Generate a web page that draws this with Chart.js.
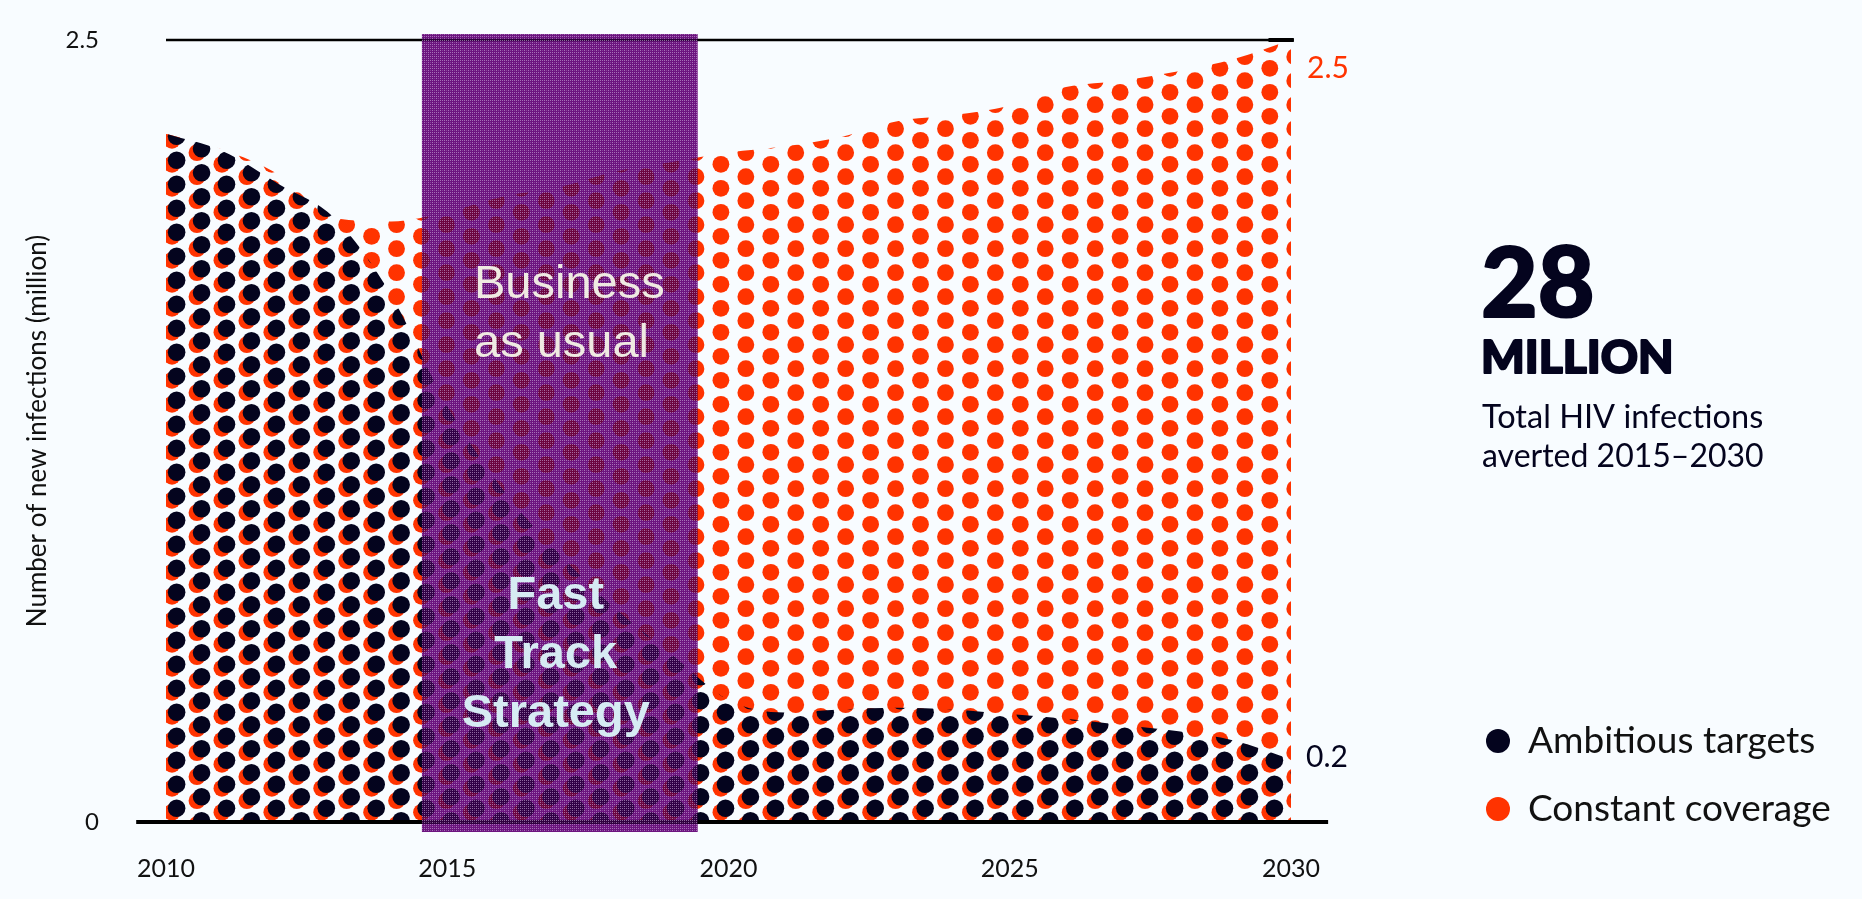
<!DOCTYPE html>
<html>
<head>
<meta charset="utf-8">
<title>HIV infections averted</title>
<script src="https://cdn.jsdelivr.net/npm/chart.js@4"></script>
<style>
  html, body { margin: 0; padding: 0; background: #f8fcff; overflow: hidden; }
  canvas { display: block; }
</style>
</head>
<body>
<canvas id="infectionsChart" width="1862" height="899"></canvas>
<script>
const years = [2010, 2011, 2012, 2013, 2014, 2015, 2016, 2017, 2018, 2019, 2020,
  2021, 2022, 2023, 2024, 2025, 2026, 2027, 2028, 2029, 2030];
const constantCoverage = [2.2, 2.15, 2.07, 1.93, 1.92, 1.95, 2.0, 2.03, 2.08, 2.11, 2.14,
  2.16, 2.19, 2.24, 2.26, 2.29, 2.35, 2.37, 2.4, 2.44, 2.5];
const ambitiousTargets = [2.2, 2.145, 2.04, 1.93, 1.685, 1.33, 1.06, 0.855, 0.68, 0.535, 0.39,
  0.35, 0.36, 0.365, 0.36, 0.345, 0.33, 0.31, 0.29, 0.26, 0.2];
const xTicks = [2010, 2015, 2020, 2025, 2030];
const yTicks = [0, 2.5];
const strategyBand = [2014.55, 2019.45];

const RED = '#ff3300';
const NAVY = '#04041e';

// Dot texture for the area fills. The tile covers the whole canvas so the
// columns can sit on a non-integer spacing.
function dotPattern(color, dx, dy, radius) {
  const tile = document.createElement('canvas');
  tile.width = 1862;
  tile.height = 899;
  const c = tile.getContext('2d');
  c.fillStyle = color;
  for (let col = 0; col < 46; col++) {
    const x = 172 + col * 24.95 + dx;
    const start = (col % 2 === 0 ? 20.3 : 8.7) + dy;
    for (let y = start; y < 899; y += 24) {
      c.beginPath();
      c.arc(x, y, radius, 0, Math.PI * 2);
      c.fill();
    }
  }
  return c.createPattern(tile, 'no-repeat');
}

// Sparse light stitches on top of the purple band
function weavePattern() {
  const tile = document.createElement('canvas');
  tile.width = 4;
  tile.height = 4;
  const c = tile.getContext('2d');
  c.fillStyle = 'rgba(205, 175, 220, 0.6)';
  c.fillRect(0, 0, 1, 1);
  c.fillRect(2, 0, 1, 1);
  c.fillRect(0, 2, 1, 1);
  c.fillStyle = 'rgba(205, 175, 220, 0.3)';
  c.fillRect(2, 2, 1, 1);
  return c.createPattern(tile, 'repeat');
}

function toPoints(values) {
  return values.map((v, i) => ({ x: years[i], y: v }));
}

function label(ctx, text, x, y, font, color, align) {
  ctx.font = font;
  ctx.fillStyle = color;
  ctx.textAlign = align || 'left';
  ctx.textBaseline = 'alphabetic';
  ctx.fillText(text, x, y);
}

// Same as label, with an outline to thicken the heavy headline
function heavyLabel(ctx, text, x, y, font, color) {
  label(ctx, text, x, y, font, color);
  ctx.strokeStyle = color;
  ctx.lineWidth = 2;
  ctx.lineJoin = 'round';
  ctx.strokeText(text, x, y);
}

const bandPlugin = {
  id: 'strategyBand',
  afterDatasetsDraw(chart) {
    const { ctx, scales: { x, y } } = chart;
    const left = x.getPixelForValue(strategyBand[0]);
    const right = x.getPixelForValue(strategyBand[1]);
    const top = y.getPixelForValue(2.519);
    const bottom = y.getPixelForValue(-0.032);
    const mid = (left + right) / 2;

    ctx.save();
    ctx.globalCompositeOperation = 'multiply';
    ctx.fillStyle = 'rgb(150, 50, 160)';
    ctx.fillRect(left, top, right - left, bottom - top);
    ctx.globalCompositeOperation = 'source-over';
    ctx.fillStyle = 'rgba(80, 0, 105, 0.6)';
    ctx.fillRect(left, top, right - left, bottom - top);
    ctx.fillStyle = weavePattern();
    ctx.fillRect(left, top, right - left, bottom - top);

    label(ctx, 'Business', 474, 298, '47px "Liberation Sans"', '#efeae2');
    label(ctx, 'as usual', 474, 357, '47px "Liberation Sans"', '#efeae2');
    ['Fast', 'Track', 'Strategy'].forEach((line, i) => {
      label(ctx, line, mid - 4, 609 + i * 59, 'bold 47px "Liberation Sans"', '#d6ebf3', 'center');
    });
    ctx.restore();
  }
};

// End-of-line values, the headline figure and the legend
const sidePlugin = {
  id: 'sideText',
  afterDraw(chart) {
    const { ctx } = chart;
    ctx.save();
    label(ctx, '2.5', 1307, 78, '30px Lato', RED);
    label(ctx, '0.2', 1306, 767, '30px Lato', NAVY);

    heavyLabel(ctx, '28', 1481, 317, '900 98px Lato', NAVY);
    heavyLabel(ctx, 'MILLION', 1481, 373, '900 46px Lato', NAVY);
    label(ctx, 'Total HIV infections', 1482, 428, '32.5px Lato', NAVY);
    label(ctx, 'averted 2015\u20132030', 1482, 467, '32px Lato', NAVY);

    ctx.fillStyle = NAVY;
    ctx.beginPath();
    ctx.arc(1498, 741, 12, 0, Math.PI * 2);
    ctx.fill();
    ctx.fillStyle = RED;
    ctx.beginPath();
    ctx.arc(1498, 809, 12, 0, Math.PI * 2);
    ctx.fill();
    label(ctx, 'Ambitious targets', 1528, 753, '37px Lato', '#111111');
    label(ctx, 'Constant coverage', 1528, 821, '37px Lato', '#111111');
    ctx.restore();
  }
};

new Chart(document.getElementById('infectionsChart'), {
  type: 'line',
  data: {
    datasets: [
      {
        label: 'Baseline',
        data: [{ x: 2009.47, y: 0 }, { x: 2030.66, y: 0 }],
        borderColor: '#000000',
        borderWidth: 4,
        pointRadius: 0,
        clip: false,
        order: 1
      },
      {
        label: 'Top rule',
        data: [{ x: 2010, y: 2.5 }, { x: 2030.05, y: 2.5 }],
        borderColor: '#000000',
        borderWidth: 2.5,
        pointRadius: 0,
        clip: false,
        order: 1
      },
      {
        label: 'Top rule end',
        data: [{ x: 2029.6, y: 2.5 }, { x: 2030.05, y: 2.5 }],
        borderColor: '#000000',
        borderWidth: 4,
        pointRadius: 0,
        clip: false,
        order: 1
      },
      {
        label: 'Ambitious targets',
        data: toPoints(ambitiousTargets),
        fill: 'origin',
        backgroundColor: dotPattern(NAVY, 4.6, -4, 8.8),
        borderWidth: 0,
        pointRadius: 0,
        cubicInterpolationMode: 'monotone',
        order: 2
      },
      {
        label: 'Constant coverage',
        data: toPoints(constantCoverage),
        fill: 'origin',
        backgroundColor: dotPattern(RED, 0, 0, 8.4),
        borderWidth: 0,
        pointRadius: 0,
        cubicInterpolationMode: 'monotone',
        order: 3
      }
    ]
  },
  options: {
    responsive: false,
    animation: false,
    layout: { autoPadding: false, padding: { top: 40, right: 571 } },
    plugins: { legend: { display: false }, tooltip: { enabled: false } },
    scales: {
      x: {
        type: 'linear',
        min: 2010,
        max: 2030,
        grid: { display: false, drawTicks: false },
        border: { display: false },
        afterFit(scale) { scale.height = 77; },
        afterBuildTicks(scale) { scale.ticks = xTicks.map(v => ({ value: v })); },
        ticks: {
          autoSkip: false,
          maxRotation: 0,
          padding: 32,
          color: '#111111',
          font: { family: 'Lato', size: 25 },
          callback: v => String(v)
        }
      },
      y: {
        min: 0,
        max: 2.5,
        grid: { display: false, drawTicks: false },
        border: { display: false },
        // the wide tick gap would otherwise be added above and below the plot
        afterFit(scale) {
          scale.width = 166;
          scale.paddingTop = 0;
          scale.paddingBottom = 0;
        },
        afterBuildTicks(scale) { scale.ticks = yTicks.map(v => ({ value: v })); },
        title: {
          display: true,
          text: 'Number of new infections (million)',
          color: '#111111',
          font: { family: 'Lato', size: 26 },
          padding: { top: 22, bottom: 0 }
        },
        ticks: {
          padding: 67,
          color: '#111111',
          font: { family: 'Lato', size: 24 },
          callback: v => String(v)
        }
      }
    }
  },
  plugins: [bandPlugin, sidePlugin]
});
</script>
</body>
</html>
